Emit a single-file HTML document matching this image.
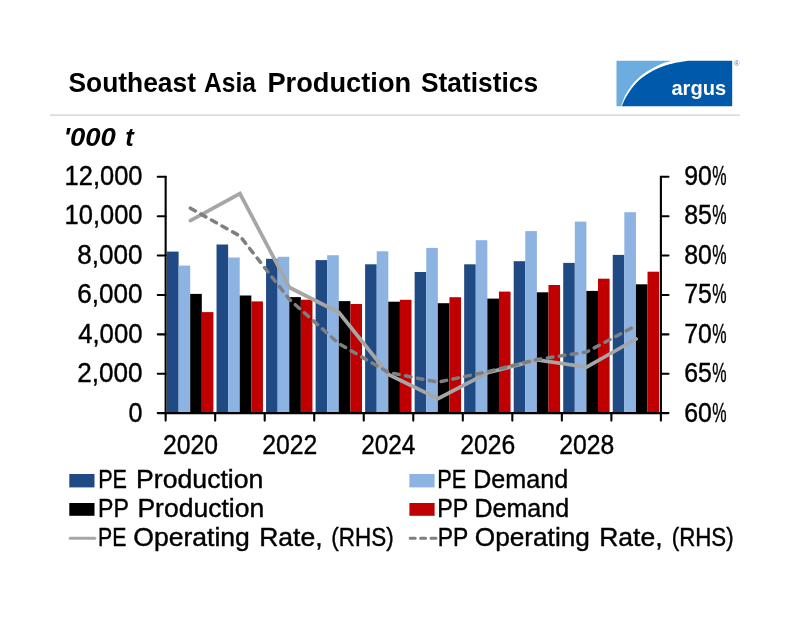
<!DOCTYPE html>
<html lang="en"><head><meta charset="utf-8"><title>Southeast Asia Production Statistics</title>
<style>html,body{margin:0;padding:0;background:#fff;}body{width:800px;height:619px;overflow:hidden;}svg{display:block;}text{font-family:"Liberation Sans",sans-serif;}</style>
</head><body>
<svg width="800" height="619" viewBox="0 0 800 619">
<rect width="800" height="619" fill="#fff"/>
<rect x="50" y="114.45" width="690" height="1.35" fill="#D4D4D4"/>
<g>
<path d="M621.2 106.3 C621.7 104.9 623.0 100.3 624.0 98.0 C625.0 95.7 625.7 94.7 627.0 92.5 C628.3 90.3 630.3 87.2 632.0 85.0 C633.7 82.8 635.3 81.2 637.0 79.5 C638.7 77.8 640.3 76.3 642.0 75.0 C643.7 73.7 645.3 72.6 647.0 71.5 C648.7 70.4 650.3 69.4 652.0 68.5 C653.7 67.6 655.3 66.8 657.0 66.0 C658.7 65.2 660.3 64.5 662.0 63.8 C663.7 63.1 665.3 62.5 667.0 62.0 C668.7 61.5 671.2 60.9 672.0 60.7 L616.5 60.7 L616.5 106.3 Z" fill="#6CACDE"/>
<path d="M621.8 106.3 C622.3 105.1 624.0 101.0 625.0 99.0 C626.0 97.0 626.8 95.8 628.0 94.0 C629.2 92.2 630.5 90.0 632.0 88.0 C633.5 86.0 635.3 83.9 637.0 82.2 C638.7 80.5 640.3 79.1 642.0 77.8 C643.7 76.5 645.3 75.3 647.0 74.2 C648.7 73.1 650.3 72.1 652.0 71.2 C653.7 70.3 655.3 69.5 657.0 68.7 C658.7 68.0 660.3 67.3 662.0 66.7 C663.7 66.1 665.3 65.5 667.0 65.0 C668.7 64.5 670.3 64.1 672.0 63.7 C673.7 63.3 675.3 62.9 677.0 62.6 C678.7 62.3 680.2 62.0 682.0 61.7 C683.8 61.4 687.0 60.9 688.0 60.7 L732.2 60.7 L732.2 106.3 Z" fill="#0059AB"/>
<text x="734.1" y="66.1" font-size="7.6" fill="#4F7FBF">®</text>
</g>
<g>
<rect x="167.01" y="251.6" width="11.60" height="161.5" fill="#1F4A83"/>
<rect x="178.61" y="265.6" width="11.60" height="147.5" fill="#8DB3E2"/>
<rect x="190.21" y="293.9" width="11.60" height="119.2" fill="#000000"/>
<rect x="201.81" y="312.1" width="11.60" height="101.0" fill="#C00000"/>
<rect x="216.54" y="244.5" width="11.60" height="168.6" fill="#1F4A83"/>
<rect x="228.14" y="257.5" width="11.60" height="155.6" fill="#8DB3E2"/>
<rect x="239.74" y="295.5" width="11.60" height="117.6" fill="#000000"/>
<rect x="251.34" y="301.4" width="11.60" height="111.7" fill="#C00000"/>
<rect x="266.06" y="258.8" width="11.60" height="154.3" fill="#1F4A83"/>
<rect x="277.66" y="256.8" width="11.60" height="156.3" fill="#8DB3E2"/>
<rect x="289.26" y="297.1" width="11.60" height="116.0" fill="#000000"/>
<rect x="300.86" y="299.7" width="11.60" height="113.4" fill="#C00000"/>
<rect x="315.59" y="260.1" width="11.60" height="153.0" fill="#1F4A83"/>
<rect x="327.19" y="255.2" width="11.60" height="157.9" fill="#8DB3E2"/>
<rect x="338.79" y="301.1" width="11.60" height="112.0" fill="#000000"/>
<rect x="350.39" y="304.0" width="11.60" height="109.1" fill="#C00000"/>
<rect x="365.11" y="264.3" width="11.60" height="148.8" fill="#1F4A83"/>
<rect x="376.71" y="251.3" width="11.60" height="161.8" fill="#8DB3E2"/>
<rect x="388.31" y="301.7" width="11.60" height="111.4" fill="#000000"/>
<rect x="399.91" y="299.8" width="11.60" height="113.3" fill="#C00000"/>
<rect x="414.64" y="272.0" width="11.60" height="141.1" fill="#1F4A83"/>
<rect x="426.24" y="247.9" width="11.60" height="165.2" fill="#8DB3E2"/>
<rect x="437.84" y="303.2" width="11.60" height="109.9" fill="#000000"/>
<rect x="449.44" y="297.2" width="11.60" height="115.9" fill="#C00000"/>
<rect x="464.16" y="264.3" width="11.60" height="148.8" fill="#1F4A83"/>
<rect x="475.76" y="240.2" width="11.60" height="172.9" fill="#8DB3E2"/>
<rect x="487.36" y="298.6" width="11.60" height="114.5" fill="#000000"/>
<rect x="498.96" y="291.6" width="11.60" height="121.5" fill="#C00000"/>
<rect x="513.69" y="261.2" width="11.60" height="151.9" fill="#1F4A83"/>
<rect x="525.29" y="231.1" width="11.60" height="182.0" fill="#8DB3E2"/>
<rect x="536.89" y="292.3" width="11.60" height="120.8" fill="#000000"/>
<rect x="548.49" y="285.0" width="11.60" height="128.1" fill="#C00000"/>
<rect x="563.21" y="262.9" width="11.60" height="150.2" fill="#1F4A83"/>
<rect x="574.81" y="221.6" width="11.60" height="191.5" fill="#8DB3E2"/>
<rect x="586.41" y="290.9" width="11.60" height="122.2" fill="#000000"/>
<rect x="598.01" y="278.7" width="11.60" height="134.4" fill="#C00000"/>
<rect x="612.74" y="254.9" width="11.60" height="158.2" fill="#1F4A83"/>
<rect x="624.34" y="212.2" width="11.60" height="200.9" fill="#8DB3E2"/>
<rect x="635.94" y="284.3" width="11.60" height="128.8" fill="#000000"/>
<rect x="647.54" y="271.7" width="11.60" height="141.4" fill="#C00000"/>
</g>
<polyline points="190.4,220.6 239.9,193.6 289.5,287.5 339.0,312.5 388.5,374.5 438.0,398.7 487.6,372.8 537.1,360.0 586.6,367.0 636.1,339.0" fill="none" stroke="#A6A6A6" stroke-width="3.7" stroke-linecap="round" stroke-linejoin="miter"/>
<polyline points="190.4,208.2 239.9,236.0 289.5,299.5 339.0,343.7 388.5,372.5 438.0,382.2 487.6,371.7 537.1,359.5 586.6,352.0 636.1,325.6" fill="none" stroke="#7F7F7F" stroke-width="3.5" stroke-linecap="round" stroke-linejoin="round" stroke-dasharray="5.6 6.5"/>
<g stroke="#000" stroke-width="2.1" fill="none" stroke-linecap="round">
<line x1="165.65" y1="176.8" x2="165.65" y2="413.1"/>
<line x1="660.9" y1="176.8" x2="660.9" y2="413.1"/>
<line x1="165.65" y1="413.1" x2="660.9" y2="413.1"/>
<line x1="157.75" y1="176.80" x2="165.65" y2="176.80"/>
<line x1="660.9" y1="176.80" x2="668.5" y2="176.80"/>
<line x1="157.75" y1="216.18" x2="165.65" y2="216.18"/>
<line x1="660.9" y1="216.18" x2="668.5" y2="216.18"/>
<line x1="157.75" y1="255.57" x2="165.65" y2="255.57"/>
<line x1="660.9" y1="255.57" x2="668.5" y2="255.57"/>
<line x1="157.75" y1="294.95" x2="165.65" y2="294.95"/>
<line x1="660.9" y1="294.95" x2="668.5" y2="294.95"/>
<line x1="157.75" y1="334.33" x2="165.65" y2="334.33"/>
<line x1="660.9" y1="334.33" x2="668.5" y2="334.33"/>
<line x1="157.75" y1="373.72" x2="165.65" y2="373.72"/>
<line x1="660.9" y1="373.72" x2="668.5" y2="373.72"/>
<line x1="157.75" y1="413.10" x2="165.65" y2="413.10"/>
<line x1="660.9" y1="413.10" x2="668.5" y2="413.10"/>
<line x1="165.65" y1="413.1" x2="165.65" y2="420.6"/>
<line x1="215.18" y1="413.1" x2="215.18" y2="420.6"/>
<line x1="264.70" y1="413.1" x2="264.70" y2="420.6"/>
<line x1="314.23" y1="413.1" x2="314.23" y2="420.6"/>
<line x1="363.75" y1="413.1" x2="363.75" y2="420.6"/>
<line x1="413.27" y1="413.1" x2="413.27" y2="420.6"/>
<line x1="462.80" y1="413.1" x2="462.80" y2="420.6"/>
<line x1="512.33" y1="413.1" x2="512.33" y2="420.6"/>
<line x1="561.85" y1="413.1" x2="561.85" y2="420.6"/>
<line x1="611.38" y1="413.1" x2="611.38" y2="420.6"/>
<line x1="660.90" y1="413.1" x2="660.90" y2="420.6"/>
</g>
<rect x="69.3" y="474" width="25.2" height="13.4" fill="#1F4A83"/>
<rect x="69.3" y="503" width="25.2" height="12.8" fill="#000000"/>
<line x1="70.2" y1="538.2" x2="94.8" y2="538.2" stroke="#A6A6A6" stroke-width="3" stroke-linecap="round"/>
<rect x="409.4" y="474" width="25.2" height="13.4" fill="#8DB3E2"/>
<rect x="409.4" y="503" width="25.2" height="12.8" fill="#C00000"/>
<line x1="410.2" y1="538.2" x2="436" y2="538.2" stroke="#7F7F7F" stroke-width="3" stroke-linecap="round" stroke-dasharray="5 5.4"/>
<text y="91.7" font-size="27.2" fill="#000" font-weight="bold"><tspan x="68.40" textLength="127.65" lengthAdjust="spacingAndGlyphs">Southeast</tspan> <tspan x="204.00" textLength="52.00" lengthAdjust="spacingAndGlyphs">Asia</tspan> <tspan x="267.40" textLength="143.81" lengthAdjust="spacingAndGlyphs">Production</tspan> <tspan x="421.00" textLength="117.09" lengthAdjust="spacingAndGlyphs">Statistics</tspan></text>
<text y="145.6" font-size="26.3" fill="#000" font-weight="bold" font-style="italic"><tspan x="63.51" textLength="52.40" lengthAdjust="spacingAndGlyphs">'000</tspan> <tspan x="125.33" textLength="8.47" lengthAdjust="spacingAndGlyphs">t</tspan></text>
<text y="184.9" font-size="27.0" fill="#000" stroke="#000" stroke-width="0.4"><tspan x="64.61" textLength="77.84" lengthAdjust="spacingAndGlyphs">12,000</tspan></text>
<text y="184.9" font-size="27.0" fill="#000" stroke="#000" stroke-width="0.4"><tspan x="684.28" textLength="27.66" lengthAdjust="spacingAndGlyphs">90</tspan><tspan x="712.30" textLength="14.30" lengthAdjust="spacingAndGlyphs">%</tspan></text>
<text y="224.4" font-size="27.0" fill="#000" stroke="#000" stroke-width="0.4"><tspan x="64.61" textLength="77.84" lengthAdjust="spacingAndGlyphs">10,000</tspan></text>
<text y="224.4" font-size="27.0" fill="#000" stroke="#000" stroke-width="0.4"><tspan x="684.28" textLength="27.66" lengthAdjust="spacingAndGlyphs">85</tspan><tspan x="712.30" textLength="14.30" lengthAdjust="spacingAndGlyphs">%</tspan></text>
<text y="263.9" font-size="27.0" fill="#000" stroke="#000" stroke-width="0.4"><tspan x="77.23" textLength="65.25" lengthAdjust="spacingAndGlyphs">8,000</tspan></text>
<text y="263.9" font-size="27.0" fill="#000" stroke="#000" stroke-width="0.4"><tspan x="684.28" textLength="27.66" lengthAdjust="spacingAndGlyphs">80</tspan><tspan x="712.30" textLength="14.30" lengthAdjust="spacingAndGlyphs">%</tspan></text>
<text y="303.4" font-size="27.0" fill="#000" stroke="#000" stroke-width="0.4"><tspan x="77.23" textLength="65.25" lengthAdjust="spacingAndGlyphs">6,000</tspan></text>
<text y="303.4" font-size="27.0" fill="#000" stroke="#000" stroke-width="0.4"><tspan x="684.28" textLength="27.66" lengthAdjust="spacingAndGlyphs">75</tspan><tspan x="712.30" textLength="14.30" lengthAdjust="spacingAndGlyphs">%</tspan></text>
<text y="342.9" font-size="27.0" fill="#000" stroke="#000" stroke-width="0.4"><tspan x="78.20" textLength="64.27" lengthAdjust="spacingAndGlyphs">4,000</tspan></text>
<text y="342.9" font-size="27.0" fill="#000" stroke="#000" stroke-width="0.4"><tspan x="684.28" textLength="27.66" lengthAdjust="spacingAndGlyphs">70</tspan><tspan x="712.30" textLength="14.30" lengthAdjust="spacingAndGlyphs">%</tspan></text>
<text y="382.4" font-size="27.0" fill="#000" stroke="#000" stroke-width="0.4"><tspan x="77.23" textLength="65.25" lengthAdjust="spacingAndGlyphs">2,000</tspan></text>
<text y="382.4" font-size="27.0" fill="#000" stroke="#000" stroke-width="0.4"><tspan x="684.28" textLength="27.66" lengthAdjust="spacingAndGlyphs">65</tspan><tspan x="712.30" textLength="14.30" lengthAdjust="spacingAndGlyphs">%</tspan></text>
<text y="421.9" font-size="27.0" fill="#000" stroke="#000" stroke-width="0.4"><tspan x="128.47" textLength="13.98" lengthAdjust="spacingAndGlyphs">0</tspan></text>
<text y="421.9" font-size="27.0" fill="#000" stroke="#000" stroke-width="0.4"><tspan x="684.28" textLength="27.66" lengthAdjust="spacingAndGlyphs">60</tspan><tspan x="712.30" textLength="14.30" lengthAdjust="spacingAndGlyphs">%</tspan></text>
<text y="453.7" font-size="27.0" fill="#000" stroke="#000" stroke-width="0.4"><tspan x="163.10" textLength="55.05" lengthAdjust="spacingAndGlyphs">2020</tspan></text>
<text y="453.7" font-size="27.0" fill="#000" stroke="#000" stroke-width="0.4"><tspan x="262.15" textLength="55.05" lengthAdjust="spacingAndGlyphs">2022</tspan></text>
<text y="453.7" font-size="27.0" fill="#000" stroke="#000" stroke-width="0.4"><tspan x="361.21" textLength="54.12" lengthAdjust="spacingAndGlyphs">2024</tspan></text>
<text y="453.7" font-size="27.0" fill="#000" stroke="#000" stroke-width="0.4"><tspan x="460.25" textLength="55.05" lengthAdjust="spacingAndGlyphs">2026</tspan></text>
<text y="453.7" font-size="27.0" fill="#000" stroke="#000" stroke-width="0.4"><tspan x="559.30" textLength="55.05" lengthAdjust="spacingAndGlyphs">2028</tspan></text>
<text y="487.6" font-size="25.4" fill="#000" stroke="#000" stroke-width="0.4"><tspan x="98.20" textLength="28.80" lengthAdjust="spacingAndGlyphs">PE</tspan> <tspan x="136.10" textLength="127.27" lengthAdjust="spacingAndGlyphs">Production</tspan></text>
<text y="516.6" font-size="25.4" fill="#000" stroke="#000" stroke-width="0.4"><tspan x="98.10" textLength="30.44" lengthAdjust="spacingAndGlyphs">PP</tspan> <tspan x="137.41" textLength="126.76" lengthAdjust="spacingAndGlyphs">Production</tspan></text>
<text y="545.7" font-size="25.4" fill="#000" stroke="#000" stroke-width="0.4"><tspan x="98.03" textLength="28.36" lengthAdjust="spacingAndGlyphs">PE</tspan> <tspan x="133.25" textLength="116.62" lengthAdjust="spacingAndGlyphs">Operating</tspan> <tspan x="259.21" textLength="63.33" lengthAdjust="spacingAndGlyphs">Rate,</tspan> <tspan x="331.32" textLength="62.37" lengthAdjust="spacingAndGlyphs">(RHS)</tspan></text>
<text y="487.6" font-size="25.4" fill="#000" stroke="#000" stroke-width="0.4"><tspan x="437.19" textLength="29.01" lengthAdjust="spacingAndGlyphs">PE</tspan> <tspan x="473.22" textLength="94.89" lengthAdjust="spacingAndGlyphs">Demand</tspan></text>
<text y="516.6" font-size="25.4" fill="#000" stroke="#000" stroke-width="0.4"><tspan x="437.19" textLength="30.66" lengthAdjust="spacingAndGlyphs">PP</tspan> <tspan x="474.43" textLength="94.68" lengthAdjust="spacingAndGlyphs">Demand</tspan></text>
<text y="545.7" font-size="25.4" fill="#000" stroke="#000" stroke-width="0.4"><tspan x="437.72" textLength="30.11" lengthAdjust="spacingAndGlyphs">PP</tspan> <tspan x="474.77" textLength="115.09" lengthAdjust="spacingAndGlyphs">Operating</tspan> <tspan x="599.21" textLength="63.33" lengthAdjust="spacingAndGlyphs">Rate,</tspan> <tspan x="671.72" textLength="61.96" lengthAdjust="spacingAndGlyphs">(RHS)</tspan></text>
<text y="95.2" font-size="20.8" fill="#fff" font-weight="bold"><tspan x="671.40" textLength="54.75" lengthAdjust="spacingAndGlyphs">argus</tspan></text>
</svg></body></html>
